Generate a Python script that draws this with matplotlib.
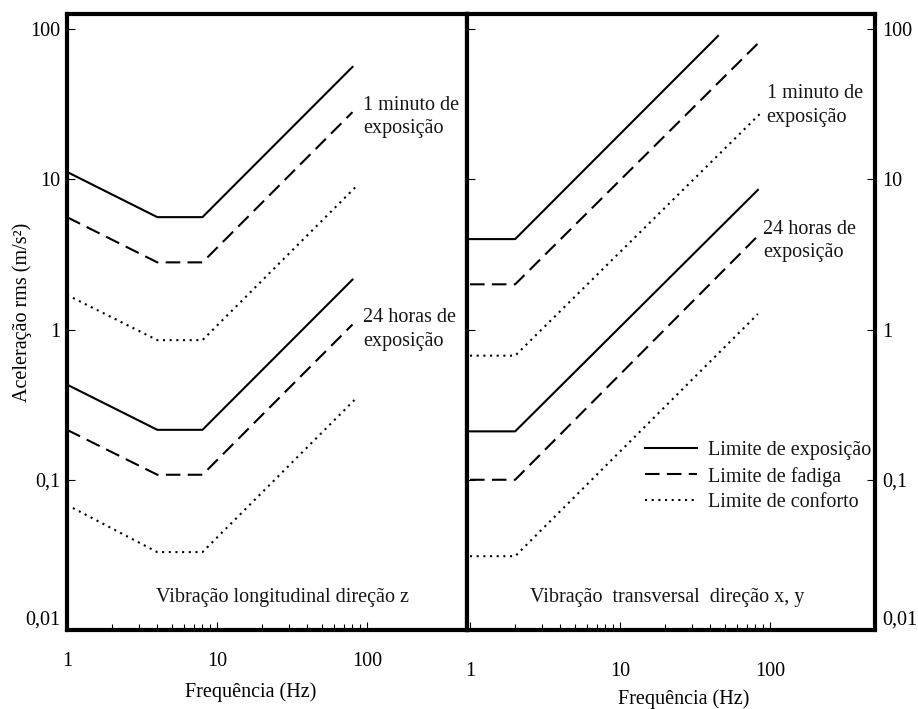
import matplotlib
matplotlib.use('Agg')
import matplotlib.pyplot as plt

plt.rcParams['font.family'] = ['Liberation Serif', 'DejaVu Serif']
plt.rcParams['font.size'] = 14.5
plt.rcParams['text.color'] = '#151515'

# direction z (longitudinal)
freq_z = [1, 4, 8, 80]
freq_z_conf = [1, 4, 8, 85]
z_1min_exp = [11.2, 5.6, 5.6, 56]
z_1min_fad = [5.6, 2.8, 2.8, 28]
z_1min_conf = [1.7, 0.85, 0.85, 9.0]
z_24h_exp = [0.43, 0.215, 0.215, 2.15]
z_24h_fad = [0.215, 0.108, 0.108, 1.08]
z_24h_conf = [0.068, 0.033, 0.033, 0.35]

# direction x, y (transversal)
freq_xy_1min_exp = [1, 2, 45]
xy_1min_exp = [4.0, 4.0, 90]
freq_xy_1min = [1, 2, 88]
xy_1min_fad = [2.0, 2.0, 85]
xy_1min_conf = [0.67, 0.67, 28]
freq_xy_24h = [1, 2, 83]
xy_24h_exp = [0.21, 0.21, 8.5]
xy_24h_fad = [0.1, 0.1, 4.2]
xy_24h_conf = [0.031, 0.031, 1.27]

yticks = [0.01, 0.1, 1, 10, 100]
ytick_labels = ['0,01', '0,1', '1', '10', '100']
xticks = [1, 10, 100]
xtick_labels = ['1', '10', '100']
minor_x = [2, 3, 4, 5, 6, 7, 8, 9, 20, 30, 40, 50, 60, 70, 80, 90]

solid = dict(color='black', lw=1.5, ls='-')
dashed = dict(color='black', lw=1.5, ls=(0, (7, 3.5)))
dotted = dict(color='black', lw=1.5, ls=(0, (1, 2.2)))

W, H = 918, 709
fig = plt.figure(figsize=(W / 100, H / 100), dpi=100)
ax1 = fig.add_axes([67 / W, (H - 630) / H, 400 / W, 616 / H])
ax2 = fig.add_axes([467 / W, (H - 630) / H, 408 / W, 616 / H])

for ax in (ax1, ax2):
    ax.set_xscale('log')
    ax.set_yscale('log')
    ax.set_ylim(0.01, 126)
    for s in ax.spines.values():
        s.set_linewidth(3)
    ax.set_yticks(yticks)
    ax.set_yticklabels(ytick_labels)
    ax.set_xticks(xticks)
    ax.set_xticklabels(xtick_labels)
    ax.xaxis.set_minor_locator(matplotlib.ticker.FixedLocator(minor_x))
    ax.yaxis.set_minor_locator(matplotlib.ticker.NullLocator())
    ax.xaxis.set_minor_formatter(matplotlib.ticker.NullFormatter())
    ax.tick_params(which='major', direction='in', length=6, width=0.8)
    ax.tick_params(which='minor', direction='in', length=4, width=0.8)
    ax.set_xlabel('Frequência (Hz)')

ax1.set_xlim(1, 464)
ax2.set_xlim(0.955, 501)

# left panel
ax1.plot(freq_z, z_1min_exp, **solid)
ax1.plot(freq_z, z_1min_fad, **dashed)
ax1.plot(freq_z_conf, z_1min_conf, **dotted)
ax1.plot(freq_z, z_24h_exp, **solid)
ax1.plot(freq_z, z_24h_fad, **dashed)
ax1.plot(freq_z_conf, z_24h_conf, **dotted)
ax1.tick_params(axis='x', which='major', pad=16)
ax1.tick_params(axis='y', pad=5)
ax1.set_ylabel('Aceleração rms (m/s²)')
ax1.yaxis.set_label_coords(-0.088, 0.515)
ax1.xaxis.set_label_coords(0.46, -0.085)
ax1.get_yticklabels()[0].set_verticalalignment('bottom')
ax1.text(94, 26, '1 minuto de\nexposição', ha='left', va='center', linespacing=1.3)
ax1.text(94, 1.0, '24 horas de\nexposição', ha='left', va='center', linespacing=1.3)
ax1.text(0.54, 0.052, 'Vibração longitudinal direção z', transform=ax1.transAxes,
         ha='center', va='center')

# right panel
ax2.plot(freq_xy_1min_exp, xy_1min_exp, **solid)
ax2.plot(freq_xy_1min, xy_1min_fad, **dashed)
ax2.plot(freq_xy_1min, xy_1min_conf, **dotted)
ax2.plot(freq_xy_24h, xy_24h_exp, **solid, label='Limite de exposição')
ax2.plot(freq_xy_24h, xy_24h_fad, **dashed, label='Limite de fadiga')
ax2.plot(freq_xy_24h, xy_24h_conf, **dotted, label='Limite de conforto')
ax2.tick_params(axis='y', left=True, right=True, labelleft=False, labelright=True, pad=5)
ax2.tick_params(axis='x', which='major', pad=23)
ax2.xaxis.set_label_coords(0.53, -0.096)
ax2.get_yticklabels()[0].set_verticalalignment('bottom')
ax2.text(95, 31, '1 minuto de\nexposição', ha='left', va='center', linespacing=1.3)
ax2.text(90, 3.9, '24 horas de\nexposição', ha='left', va='center', linespacing=1.3)
ax2.text(0.49, 0.052, 'Vibração  transversal  direção x, y', transform=ax2.transAxes,
         ha='center', va='center')
ax2.legend(loc='upper left', bbox_to_anchor=(0.436, 0.307), frameon=False,
           handlelength=2.6, handletextpad=0.55, labelspacing=0.33, borderpad=0,
           borderaxespad=0)

plt.savefig('out.png', dpi=100)
